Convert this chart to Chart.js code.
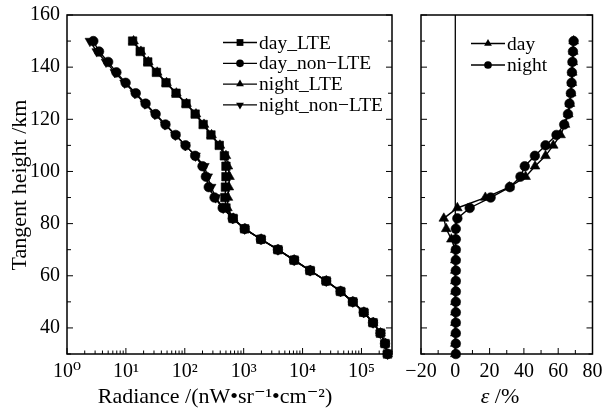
<!DOCTYPE html>
<html><head><meta charset="utf-8">
<script src="https://cdn.jsdelivr.net/npm/chart.js@4.4.1/dist/chart.umd.min.js"></script>
<style>
html,body{margin:0;padding:0;background:#fff;}
#wrap{position:relative;width:606px;height:414px;overflow:hidden;background:#fff;}
#c1{position:absolute;left:0;top:0;}
#c2{position:absolute;left:400px;top:0;}
</style></head><body>
<div id="wrap">
<canvas id="c1" width="400" height="414"></canvas>
<canvas id="c2" width="206" height="414"></canvas>
</div>
<script>
// ---- data ----
const heights = [150,146,142,138,134,130,126,122,118,114,110,106,102,98,94,90,86,82,78,74,70,66,62,58,54,50,46,42,38,34,30];
const dayLTE      = [13,17.5,23.5,33,48,71,105,150,205,278,385,470,500,500,490,480,500,660,1040,1960,3810,7190,13400,25200,44100,71300,109000,157000,210000,251000,277000];
const dayNonLTE   = [2.8,3.5,5.0,6.9,9.9,14.7,21.6,32,47,70,103,150,200,228,255,320,440,650,1040,1960,3810,7190,13400,25200,44100,71300,109000,157000,210000,251000,277000];
const nightLTE    = [13.5,18,24,34,49,72,107,155,212,285,395,500,540,575,560,540,530,665,1050,1980,3830,7200,13500,25300,44300,71500,110000,158000,211000,252000,279000];
const nightNonLTE = [2.45,3.2,4.6,6.5,9.5,14.2,21,31,46,69,102,152,215,245,280,335,450,655,1040,1970,3820,7200,13450,25250,44200,71400,109500,157500,210500,251500,278000];
const epsDay   = [69,68.8,68.5,68.2,68,67.6,66.8,65.9,64,61.4,57.1,52.6,46.5,41,31.5,17.5,1.2,-6.7,-5.3,-2.3,0,0,0,0,0,0,0,0,0,0,0];
const epsNight = [69,68.6,68.3,68,67.8,67.4,66.6,65.7,63.5,59,52.6,46.4,40.5,38,31.8,20.6,8.4,1.2,0.3,0.3,0.3,0.3,0.3,0.3,0.3,0.3,0.3,0.3,0.3,0.3,0.3];
const radianceTicks = [1,10,100,1000,10000,100000];
const radianceTickLabels = ['10\u2070','10\u00B9','10\u00B2','10\u00B3','10\u2074','10\u2075'];
const heightTicks = [40,60,80,100,120,140,160];
const epsTicks = [-20,0,20,40,60,80];
const epsTickLabels = ['\u221220','0','20','40','60','80'];

// ---- helpers ----
const FONT = "'Liberation Serif', 'DejaVu Serif', serif";
const pts = (xs) => heights.map((h, i) => ({x: xs[i], y: h}));

function ds(label, xs, style, radius, rot) {
  return {
    label, data: pts(xs), showLine: true,
    borderColor: '#000', backgroundColor: '#000', borderWidth: 1.4,
    pointStyle: style, pointRadius: radius, pointHoverRadius: radius,
    pointRotation: rot || 0, pointBorderWidth: 0.6, pointBorderColor: '#000',
    pointBackgroundColor: '#000', tension: 0, clip: 6
  };
}

const framePlugin = {
  id: 'frame',
  afterDatasetsDraw(chart, args, o) {
    const {ctx, chartArea: a, scales} = chart;
    ctx.save();
    ctx.strokeStyle = '#000';
    if (o.zeroLine) {
      const px = scales.x.getPixelForValue(0);
      ctx.lineWidth = 1.3;
      ctx.beginPath(); ctx.moveTo(px, a.top); ctx.lineTo(px, a.bottom); ctx.stroke();
    }
    ctx.lineWidth = 1.5;
    ctx.strokeRect(a.left, a.top, a.right - a.left, a.bottom - a.top);
    ctx.lineWidth = 1;
    for (let v = 30; v <= 160; v += 10) {
      const p = scales.y.getPixelForValue(v);
      const len = heightTicks.includes(v) ? 6 : 4;
      ctx.beginPath();
      ctx.moveTo(a.left, p); ctx.lineTo(a.left + len, p);
      ctx.moveTo(a.right, p); ctx.lineTo(a.right - len, p);
      ctx.stroke();
    }
    const xs = scales.x;
    const xt = [];
    if (o.log) {
      radianceTicks.forEach(d => {
        xt.push([d, 6]);
        for (let m = 2; m <= 9; m++) if (d * m <= xs.max) xt.push([d * m, 3.5]);
      });
    } else {
      for (let v = xs.min; v <= xs.max; v += 10) xt.push([v, epsTicks.includes(v) ? 6 : 4]);
    }
    xt.forEach(([v, len]) => {
      const p = xs.getPixelForValue(v);
      if (p < a.left - 0.5 || p > a.right + 0.5) return;
      ctx.beginPath(); ctx.moveTo(p, a.bottom); ctx.lineTo(p, a.bottom - len); ctx.stroke();
    });
    ctx.restore();
  }
};

const legendPlugin = {
  id: 'inlegend',
  afterDraw(chart, args, o) {
    const {ctx} = chart;
    ctx.save();
    ctx.font = o.font;
    ctx.textBaseline = 'middle';
    ctx.textAlign = 'left';
    chart.data.datasets.forEach((d, i) => {
      const y = o.y0 + i * o.dy;
      ctx.strokeStyle = '#000'; ctx.lineWidth = 1.3;
      ctx.beginPath(); ctx.moveTo(o.x0, y); ctx.lineTo(o.x0 + o.len, y); ctx.stroke();
      ctx.fillStyle = '#000';
      Chart.helpers.drawPoint(ctx, {pointStyle: d.pointStyle, rotation: d.pointRotation || 0, radius: d.pointRadius * 0.8, borderWidth: 0}, o.x0 + o.len / 2, y);
      ctx.fillText(d.label, o.x0 + o.len + 2, y + 1);
    });
    ctx.restore();
  }
};

// axis titles (mixed styles, free placement)
const titlePlugin = {
  id: 'titles',
  afterDraw(chart, args, o) {
    const ctx = chart.ctx;
    (o.items || []).forEach(t => {
      ctx.save();
      ctx.translate(t.x, t.y);
      if (t.rot) ctx.rotate(t.rot);
      ctx.fillStyle = '#000';
      ctx.textBaseline = 'middle';
      ctx.textAlign = 'left';
      let total = 0;
      t.parts.forEach(p => { ctx.font = p.font; p.w = ctx.measureText(p.text).width; total += p.w; });
      let x = -total / 2;
      t.parts.forEach(p => { ctx.font = p.font; ctx.fillText(p.text, x, 0); x += p.w; });
      ctx.restore();
    });
  }
};

function zeroPad(s) { s.paddingLeft = 0; s.paddingRight = 0; s.paddingTop = 0; s.paddingBottom = 0; }
const TF = "22px " + FONT;

// ---- left chart ----
new Chart(document.getElementById('c1'), {
  type: 'scatter',
  data: {
    datasets: [
      ds('day_LTE', dayLTE, 'rect', 6),
      ds('day_non\u2212LTE', dayNonLTE, 'circle', 4.8),
      ds('night_LTE', nightLTE, 'triangle', 5.6),
      ds('night_non\u2212LTE', nightNonLTE, 'triangle', 5.6, 180)
    ]
  },
  options: {
    responsive: false, animation: false, devicePixelRatio: 1,
    layout: {padding: {left: 0, right: 8, top: 15, bottom: 0}},
    plugins: {
      legend: {display: false}, tooltip: {enabled: false},
      frame: {log: true},
      inlegend: {x0: 223, y0: 42.5, dy: 20.8, len: 34, font: "19.5px " + FONT},
      titles: {items: [
        {x: 215, y: 397, parts: [{text: 'Radiance /(nW\u2022sr\u207B\u00B9\u2022cm\u207B\u00B2)', font: TF}]},
        {x: 20, y: 185, rot: -Math.PI / 2, parts: [{text: 'Tangent height /km', font: TF}]}
      ]}
    },
    scales: {
      x: {
        type: 'logarithmic', min: 1, max: 3.3e5,
        afterBuildTicks: s => { s.ticks = radianceTicks.map(v => ({value: v})); },
        afterFit: s => { s.height = 60; zeroPad(s); },
        grid: {display: false, drawTicks: false}, border: {display: false},
        ticks: {autoSkip: false, maxRotation: 0, padding: 6, color: '#000', font: {family: FONT, size: 20},
          callback: v => radianceTickLabels[radianceTicks.indexOf(v)] ?? ''},
        title: {display: false}
      },
      y: {
        type: 'linear', min: 30, max: 160,
        afterBuildTicks: s => { s.ticks = heightTicks.map(v => ({value: v})); },
        afterFit: s => { s.width = 67; zeroPad(s); },
        grid: {display: false, drawTicks: false}, border: {display: false},
        ticks: {padding: 7, color: '#000', font: {family: FONT, size: 20}},
        title: {display: false}
      }
    }
  },
  plugins: [framePlugin, legendPlugin, titlePlugin]
});

// ---- right chart ----
new Chart(document.getElementById('c2'), {
  type: 'scatter',
  data: {
    datasets: [
      ds('day', epsDay, 'triangle', 5.6),
      ds('night', epsNight, 'circle', 4.8)
    ]
  },
  options: {
    responsive: false, animation: false, devicePixelRatio: 1,
    layout: {padding: {left: 21, right: 13.5, top: 15, bottom: 0}},
    plugins: {
      legend: {display: false}, tooltip: {enabled: false},
      frame: {log: false, zeroLine: true},
      inlegend: {x0: 71, y0: 43.5, dy: 21.5, len: 34, font: "19.5px " + FONT},
      titles: {items: [
        {x: 100, y: 397, parts: [{text: '\u03B5', font: "italic " + TF}, {text: ' /%', font: TF}]}
      ]}
    },
    scales: {
      x: {
        type: 'linear', min: -20, max: 80,
        afterBuildTicks: s => { s.ticks = epsTicks.map(v => ({value: v})); },
        afterFit: s => { s.height = 60; zeroPad(s); },
        grid: {display: false, drawTicks: false}, border: {display: false},
        ticks: {autoSkip: false, maxRotation: 0, padding: 6, color: '#000', font: {family: FONT, size: 20},
          callback: v => epsTickLabels[epsTicks.indexOf(v)] ?? ''},
        title: {display: false}
      },
      y: {
        type: 'linear', min: 30, max: 160, display: false,
        afterFit: s => { zeroPad(s); }
      }
    }
  },
  plugins: [framePlugin, legendPlugin, titlePlugin]
});
</script>
</body></html>
